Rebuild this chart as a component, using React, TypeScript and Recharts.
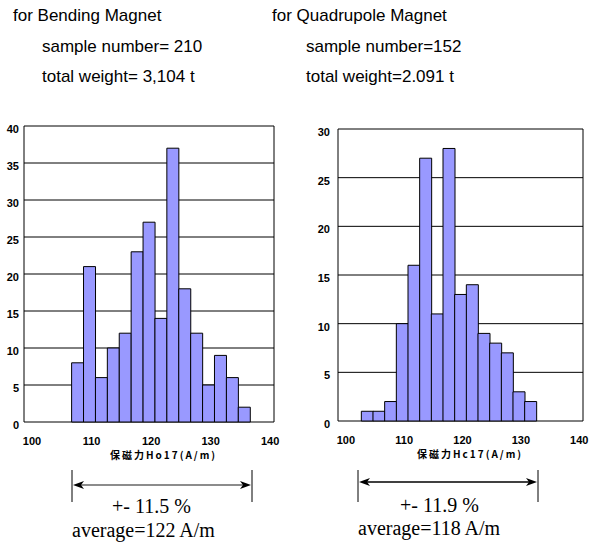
import React from "react"
import { ComposedChart, Bar, Line, XAxis, YAxis, CartesianGrid } from "recharts"

// histogram slots (lower edge of each 2 A/m bin)
const binStarts = [98, 100, 102, 104, 106, 108, 110, 112, 114, 116, 118, 120, 122, 124, 126, 128, 130, 132, 134, 136, 138]
const bendingCounts = [0, 0, 0, 0, 8, 21, 6, 10, 12, 23, 27, 14, 37, 18, 12, 5, 9, 6, 2, 0, 0]
const quadCounts = [0, 0, 1, 1, 2, 10, 16, 27, 11, 28, 13, 14, 9, 8, 7, 3, 2, 0, 0, 0, 0]

const hcTicks = [100, 110, 120, 130, 140]
const bendingYTicks = [0, 5, 10, 15, 20, 25, 30, 35, 40]
const quadYTicks = [0, 5, 10, 15, 20, 25, 30]

const sans = "'Liberation Sans', Arial, sans-serif"
const serif = "'Liberation Serif', 'Times New Roman', serif"
const cjk = "'Noto Sans CJK JP', sans-serif"

// small upward tick at the left edge of every slot
const BinTick = (props: any) => {
  const { x, y, payload } = props
  const bx = x - (payload?.offset ?? 0)
  return <line x1={bx} x2={bx} y1={y} y2={y - 4} stroke="#000" />
}

const YTick = (props: any) => {
  const { x, y, payload } = props
  return (
    <text x={x} y={y + 3} dy="0.355em" textAnchor="end" fontSize={11} fontWeight="bold" fontFamily={sans} fill="#000">
      {payload.value}
    </text>
  )
}

function Histogram({ counts, yTicks, yWidth, yGap, margin }: any) {
  const data = binStarts.map((b, i) => ({ bin: b, count: counts[i] }))
  const yMax = yTicks[yTicks.length - 1]
  return (
    <ComposedChart width={margin.w} height={370} data={data} margin={margin.m} barCategoryGap={0} barGap={0}>
      <CartesianGrid
        xAxisId="bin"
        stroke="#000"
        verticalCoordinatesGenerator={({ offset }: any) => [offset.left, offset.left + offset.width]}
      />
      <XAxis
        xAxisId="bin"
        dataKey="bin"
        height={0}
        tickSize={0}
        tickMargin={0}
        axisLine={{ stroke: "#000" }}
        tickLine={false}
        tick={<BinTick />}
        interval={0}
      />
      <XAxis
        xAxisId="hc"
        dataKey="bin"
        type="number"
        domain={[98.65, 140.65]}
        ticks={hcTicks}
        allowDataOverflow
        height={30}
        tickSize={0}
        tickMargin={15}
        axisLine={false}
        tickLine={false}
        interval={0}
        tick={{ fill: "#000", fontSize: 11, fontWeight: "bold", fontFamily: sans }}
      />
      <YAxis
        domain={[0, yMax]}
        ticks={yTicks}
        width={yWidth}
        tickSize={0}
        tickMargin={yGap}
        axisLine={false}
        tickLine={false}
        interval={0}
        tick={<YTick />}
      />
      <Bar xAxisId="bin" dataKey="count" fill="#9999ff" stroke="#000" strokeWidth={1} isAnimationActive={false} />
      {/* invisible series so the label axis has data */}
      <Line xAxisId="hc" dataKey="count" stroke="none" dot={false} activeDot={false} isAnimationActive={false} />
    </ComposedChart>
  )
}

const Arrow = ({ x1, x2, y, color }: any) => (
  <g>
    <line x1={x1} x2={x1} y1={470} y2={502} stroke="#000" />
    <line x1={x2} x2={x2} y1={470} y2={502} stroke="#000" />
    <line x1={x1 + 4} x2={x2 - 4} y1={y} y2={y} stroke={color} strokeWidth={1.3} />
    <path d={`M${x1 + 1},${y} L${x1 + 12},${y - 4} L${x1 + 9},${y} L${x1 + 12},${y + 4} Z`} fill="#000" />
    <path d={`M${x2 - 1},${y} L${x2 - 12},${y - 4} L${x2 - 9},${y} L${x2 - 12},${y + 4} Z`} fill="#000" />
  </g>
)

export default function App() {
  return (
    <div style={{ position: "absolute", left: 0, top: 0, width: 599, height: 545, background: "#fff" }}>
      <div style={{ position: "absolute", left: 0, top: 100 }}>
        <Histogram
          counts={bendingCounts}
          yTicks={bendingYTicks}
          yWidth={24}
          yGap={5}
          margin={{ w: 290, m: { top: 26, right: 16, bottom: 18, left: 0 } }}
        />
      </div>
      <div style={{ position: "absolute", left: 300, top: 100 }}>
        <Histogram
          counts={quadCounts}
          yTicks={quadYTicks}
          yWidth={38}
          yGap={8}
          margin={{ w: 299, m: { top: 29, right: 16, bottom: 19, left: 0 } }}
        />
      </div>
      <svg width={599} height={545} style={{ position: "absolute", left: 0, top: 0, pointerEvents: "none" }}>
        <g fontFamily={sans} fontSize={17} fill="#000">
          <text x={13} y={20.7}>for Bending Magnet</text>
          <text x={42} y={52.3}>sample number= 210</text>
          <text x={42} y={81.7}>total weight= 3,104 t</text>
          <text x={272} y={20.7}>for Quadrupole Magnet</text>
          <text x={306} y={52.3}>sample number=152</text>
          <text x={306} y={81.7}>total weight=2.091 t</text>
        </g>
        <g fontFamily={cjk} fontSize={10} fontWeight="bold" fill="#000" letterSpacing={2}>
          <text x={110} y={459}>保磁力Ho17(A/m)</text>
          <text x={417} y={457.5}>保磁力Hc17(A/m)</text>
        </g>
        <Arrow x1={72} x2={252} y={485} color="#666" />
        <Arrow x1={358} x2={538} y={482} color="#000" />
        <g fontFamily={serif} fontSize={20} fill="#000">
          <text x={112} y={513}>+- 11.5 %</text>
          <text x={72} y={537}>average=122 A/m</text>
          <text x={400} y={511.5}>+- 11.9 %</text>
          <text x={358} y={535}>average=118 A/m</text>
        </g>
      </svg>
    </div>
  )
}
